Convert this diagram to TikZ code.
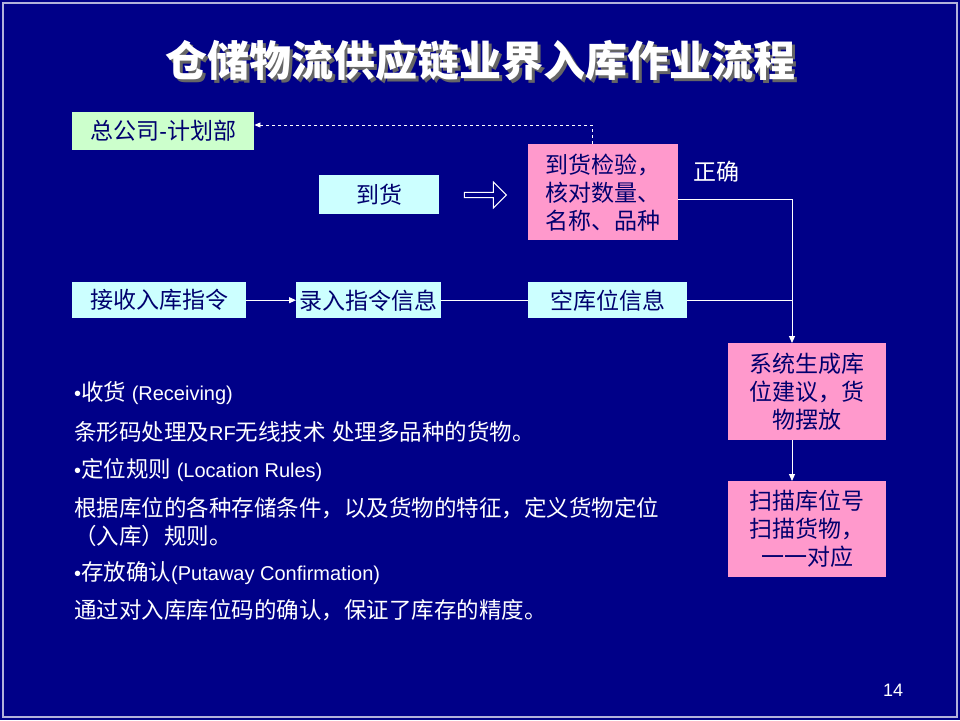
\documentclass[tikz,border=0pt]{standalone}
\usepackage{fontspec}
\setmainfont{Noto Sans CJK SC}
\newfontfamily\lat{Liberation Sans}
\usetikzlibrary{arrows.meta,shapes.arrows}
\definecolor{bg}{RGB}{0,0,136}
\definecolor{cy}{RGB}{204,255,255}
\definecolor{pk}{RGB}{255,153,204}
\definecolor{gr}{RGB}{204,255,204}
\definecolor{tx}{RGB}{0,0,110}
\begin{document}
\begin{tikzpicture}[x=1pt,y=-1pt,
  bx/.style={anchor=north west,inner sep=0pt,align=center,text=tx,font=\fontsize{23}{28}\selectfont},
  ln/.style={white,line width=1pt},
  ar/.style={ln,-{Triangle[width=6pt,length=7pt]}}]
\fill[bg] (0,0) rectangle (960,720);
\useasboundingbox (0,0) rectangle (960,720);
\draw[white!70!bg,line width=1.5pt] (3,3) rectangle (957,717);
\node[text=black!60,font=\fontsize{42}{46}\selectfont\bfseries] at (483,63) {仓储物流供应链业界入库作业流程};
\node[text=white,font=\fontsize{42}{46}\selectfont\bfseries] (title) at (480,60) {仓储物流供应链业界入库作业流程};
\node[bx,fill=gr,minimum width=182pt,minimum height=38pt] (hq) at (72,112) {总公司{\lat -}计划部};
\node[bx,fill=cy,minimum width=120pt,minimum height=39pt] (dh) at (319,175) {到货};
\node[bx,fill=pk,minimum width=150pt,minimum height=96pt] (jy) at (528,144) {到货检验，\\核对数量、\\名称、品种};
\node[single arrow,draw=white,fill=bg,minimum height=42pt,minimum width=26pt,single arrow head extend=2pt,inner sep=0pt,line width=1pt] (ha) at (484,195) {};
\node[text=white,font=\fontsize{23}{26}\selectfont] (zq) at (716,172) {正确};
\node[bx,fill=cy,minimum width=174pt,minimum height=36pt] (js) at (72,282) {接收入库指令};
\node[bx,fill=cy,minimum width=145pt,minimum height=36pt] (lr) at (296,282) {录入指令信息};
\node[bx,fill=cy,minimum width=159pt,minimum height=36pt] (kk) at (528,282) {空库位信息};
\node[bx,fill=pk,minimum width=158pt,minimum height=97pt] (xt) at (728,343) {系统生成库\\位建议，货\\物摆放};
\node[bx,fill=pk,minimum width=158pt,minimum height=96pt] (sm) at (728,481) {扫描库位号\\扫描货物，\\一一对应};
\coordinate (c1) at (592,125);
\coordinate (c2) at (792,199);
\draw[white,line width=0.8pt,dashed,-{Triangle[width=5pt,length=6pt]}] (jy.north -| c1) -- (c1) -- (hq.east |- c1);
\draw[ln] (jy.east |- c2) -- (c2) -- (kk.east -| c2);
\draw[ar] (kk.east -| c2) -- (xt.north -| c2);
\draw[ln] (kk.east) -- (kk.east -| c2);
\draw[ar] (js.east) -- (lr.west);
\draw[ln] (lr.east) -- (kk.west);
\draw[ar] (xt.south -| c2) -- (sm.north -| c2);
\begin{scope}[every node/.style={anchor=west,text=white,font=\fontsize{22.5}{24}\selectfont,inner sep=0pt}]
\node (t1) at (74,393) {{\lat\fontsize{20}{22}\selectfont •}收货{\lat\fontsize{20}{22}\selectfont\ (Receiving)}};
\node (t2) at (74,432) {条形码处理及{\lat\fontsize{20}{22}\selectfont RF}无线技术{\lat\ }处理多品种的货物。};
\node (t3) at (74,470) {{\lat\fontsize{20}{22}\selectfont •}定位规则{\lat\fontsize{20}{22}\selectfont\ (Location Rules)}};
\node (t4) at (74,508) {根据库位的各种存储条件，以及货物的特征，定义货物定位};
\node (t5) at (74,536) {（入库）规则。};
\node (t6) at (74,573) {{\lat\fontsize{20}{22}\selectfont •}存放确认{\lat\fontsize{20}{22}\selectfont (Putaway Confirmation)}};
\node (t7) at (74,610) {通过对入库库位码的确认，保证了库存的精度。};
\end{scope}
\node[text=white,font=\lat\fontsize{18}{20}\selectfont] (pg) at (893,690) {14};
\end{tikzpicture}
\end{document}
